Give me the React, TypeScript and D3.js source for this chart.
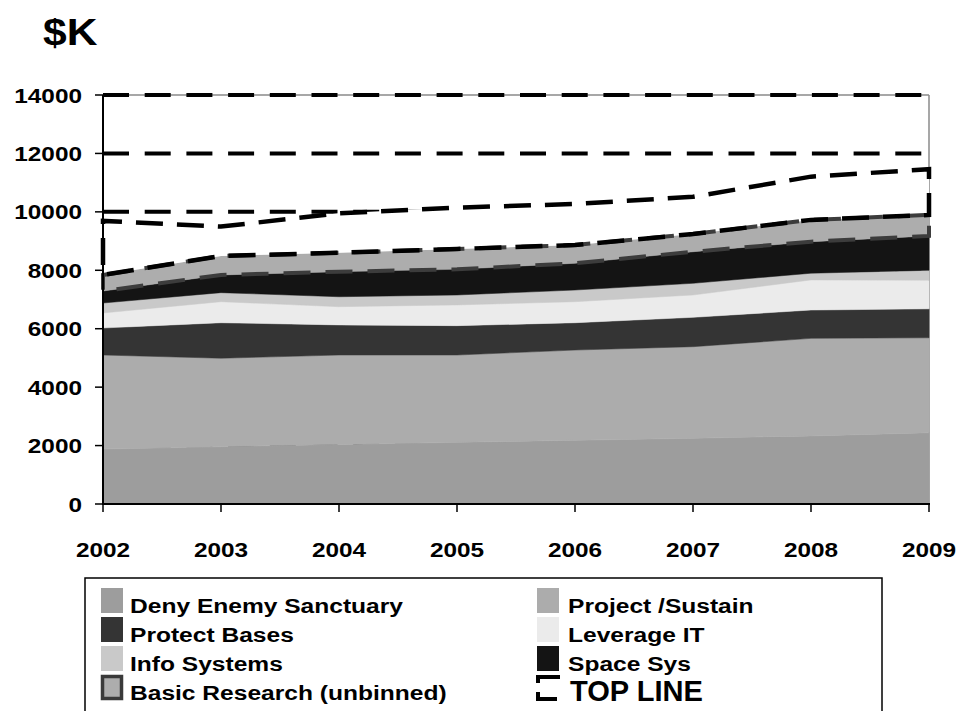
import React from "react";
import * as d3 from "d3";

const years = [2002, 2003, 2004, 2005, 2006, 2007, 2008, 2009];
const denyEnemySanctuary = [1880, 1960, 2040, 2110, 2180, 2250, 2330, 2440];
const projectSustain = [3220, 3030, 3060, 2990, 3090, 3135, 3340, 3250];
const protectBases = [925, 1215, 1030, 1005, 935, 1005, 970, 990];
const leverageIT = [515, 720, 625, 710, 720, 765, 1030, 980];
const infoSystems = [340, 310, 340, 340, 400, 400, 230, 340];
const spaceSys = [410, 605, 855, 880, 915, 1080, 1080, 1175];
const basicResearch = [550, 650, 650, 695, 625, 605, 745, 720];
const topLine = [1850, 1005, 1350, 1415, 1405, 1275, 1480, 1565];
const yTicks = [0, 2000, 4000, 6000, 8000, 10000, 12000, 14000];

const seriesKeys = ["deny", "project", "protect", "leverage", "info", "space", "basic", "top"];
const seriesNames: Record<string, string> = {
  deny: "Deny Enemy Sanctuary",
  project: "Project /Sustain",
  protect: "Protect Bases",
  leverage: "Leverage IT",
  info: "Info Systems",
  space: "Space Sys",
  basic: "Basic Research (unbinned)",
  top: "TOP LINE",
};
const fills: Record<string, string> = {
  deny: "#9d9d9d",
  project: "#acacac",
  protect: "#343434",
  leverage: "#ebebeb",
  info: "#c9c9c9",
  space: "#141414",
  basic: "#adadad",
  top: "#ffffff",
};

const table = years.map((yr, i) => ({
  year: yr,
  deny: denyEnemySanctuary[i],
  project: projectSustain[i],
  protect: protectBases[i],
  leverage: leverageIT[i],
  info: infoSystems[i],
  space: spaceSys[i],
  basic: basicResearch[i],
  top: topLine[i],
}));

const FONT = "'Liberation Sans', Arial, Helvetica, sans-serif";
const SX = 1.16;

export default function App() {
  const x = d3.scaleLinear().domain([2002, 2009]).range([103, 929]);
  const y = d3.scaleLinear().domain([0, 14000]).range([504, 95]);
  const stacked = d3.stack<any>().keys(seriesKeys)(table);
  const area = d3
    .area<any>()
    .x((d) => x(d.data.year))
    .y0((d) => y(d[0]))
    .y1((d) => y(d[1]));

  const legendLeft = [
    { key: "deny", row: 0 },
    { key: "protect", row: 1 },
    { key: "info", row: 2 },
    { key: "basic", row: 3 },
  ];
  const legendRight = [
    { key: "project", row: 0 },
    { key: "leverage", row: 1 },
    { key: "space", row: 2 },
    { key: "top", row: 3 },
  ];
  const rowY = (r: number) => 588 + r * 29;

  const swatch = (key: string, sx: number, sy: number) => {
    if (key === "basic") {
      return (
        <rect x={sx + 1.5} y={sy + 1.5} width={19} height={22} fill="#adadad" stroke="#3a3a3a" strokeWidth={3.5} />
      );
    }
    if (key === "top") {
      return (
        <g stroke="#000" strokeWidth={4} fill="none">
          <path d={`M${sx + 1},${sy + 8} L${sx + 1},${sy + 2} L${sx + 23},${sy + 2}`} />
          <path d={`M${sx + 1},${sy + 17} L${sx + 1},${sy + 24} L${sx + 20},${sy + 24}`} />
        </g>
      );
    }
    return <rect x={sx} y={sy} width={22} height={25} fill={fills[key]} />;
  };

  return (
    <svg
      width={970}
      height={711}
      style={{ position: "absolute", left: 0, top: 0, background: "#fff" }}
      fontFamily={FONT}
    >
      <rect x={0} y={0} width={970} height={711} fill="#fff" />
      {/* title */}
      <text transform={`translate(43,45) scale(1.15,1)`} fontSize={37} fontWeight="bold" fill="#000">
        $K
      </text>

      {/* plot frame */}
      <line x1={103} x2={929} y1={95} y2={95} stroke="#8a8a8a" strokeWidth={1.5} />
      <line x1={929} x2={929} y1={95} y2={504} stroke="#8a8a8a" strokeWidth={1.5} />

      {/* gridlines */}
      {yTicks
        .filter((t) => t > 0)
        .map((t) => (
          <line
            key={"g" + t}
            x1={103}
            x2={929}
            y1={y(t)}
            y2={y(t)}
            stroke="#000"
            strokeWidth={4}
            strokeDasharray="26,15.7"
          />
        ))}

      {/* areas */}
      {stacked.map((s: any) => (
        <path
          key={s.key}
          d={area(s) || ""}
          fill={fills[s.key]}
          stroke={s.key === "top" ? "none" : fills[s.key]}
          strokeWidth={0.5}
        />
      ))}
      {/* basic research border */}
      {stacked
        .filter((s: any) => s.key === "basic")
        .map((s: any) => (
          <path
            key="basic-stroke"
            d={area(s) || ""}
            fill="none"
            stroke="#3c3c3c"
            strokeWidth={4}
            strokeDasharray="27,15"
          />
        ))}
      {/* top line */}
      {stacked
        .filter((s: any) => s.key === "top")
        .map((s: any) => (
          <path
            key="top-stroke"
            d={area(s) || ""}
            fill="none"
            stroke="#000"
            strokeWidth={4.5}
            strokeDasharray="27,14"
            strokeDashoffset={8}
          />
        ))}

      {/* axes */}
      <line x1={103} x2={103} y1={95} y2={505} stroke="#000" strokeWidth={2} />
      <line x1={102} x2={930} y1={504} y2={504} stroke="#000" strokeWidth={2} />
      {yTicks.map((t) => (
        <g key={"yt" + t}>
          <line x1={95} x2={103} y1={y(t)} y2={y(t)} stroke="#000" strokeWidth={1.5} />
          <text
            transform={`translate(82,${y(t) + 7.5}) scale(${SX},1)`}
            textAnchor="end"
            fontSize={21}
            fontWeight="bold"
            fill="#000"
          >
            {t}
          </text>
        </g>
      ))}
      {years.map((yr) => (
        <g key={"xt" + yr}>
          <line x1={x(yr)} x2={x(yr)} y1={504} y2={512} stroke="#000" strokeWidth={1.5} />
          <text
            transform={`translate(${x(yr)},556.5) scale(${SX},1)`}
            textAnchor="middle"
            fontSize={21}
            fontWeight="bold"
            fill="#000"
          >
            {yr}
          </text>
        </g>
      ))}

      {/* legend */}
      <rect x={85} y={578} width={797} height={150} fill="#fff" stroke="#000" strokeWidth={1.5} />
      {legendLeft.map((it) => (
        <g key={"ll" + it.key}>
          {swatch(it.key, 101, rowY(it.row))}
          <text
            transform={`translate(130,${rowY(it.row) + 24.5}) scale(1.17,1)`}
            fontSize={21}
            fontWeight="bold"
            fill="#000"
          >
            {seriesNames[it.key]}
          </text>
        </g>
      ))}
      {legendRight.map((it) => (
        <g key={"lr" + it.key}>
          {swatch(it.key, 537, rowY(it.row))}
          {it.key === "top" ? (
            <text
              x={570}
              y={rowY(it.row) + 26}
              fontSize={30}
              fontWeight="bold"
              fill="#000"
              textLength={133}
              lengthAdjust="spacingAndGlyphs"
            >
              {seriesNames[it.key]}
            </text>
          ) : (
            <text
              transform={`translate(568,${rowY(it.row) + 24.5}) scale(1.17,1)`}
              fontSize={21}
              fontWeight="bold"
              fill="#000"
            >
              {seriesNames[it.key]}
            </text>
          )}
        </g>
      ))}
    </svg>
  );
}
